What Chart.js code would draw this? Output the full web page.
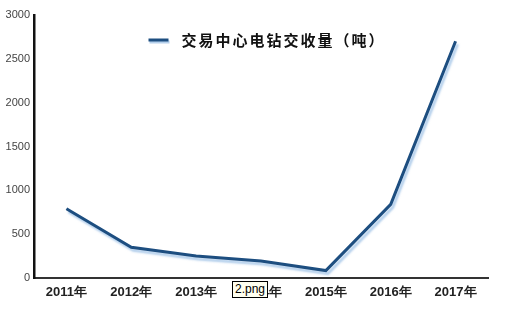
<!DOCTYPE html>
<html><head><meta charset="utf-8">
<script src="https://cdn.jsdelivr.net/npm/chart.js@4/dist/chart.umd.min.js"></script>
<style>
html,body{margin:0;padding:0;background:#fff;}
#wrap{position:relative;width:520px;height:313px;}
#tag{position:absolute;left:232px;top:281px;border:1px solid #000;background:#fffff0;font:12px "Liberation Sans",Arial,sans-serif;padding:0 2px;line-height:15px;color:#000;}
</style></head>
<body><div id="wrap"><canvas id="c" width="520" height="313"></canvas><div id="tag">2.png</div></div>
<script>
const categories = ["2011年","2012年","2013年","2014年","2015年","2016年","2017年"];
const volume = [790, 350, 250, 195, 85, 840, 2700];
const yTicks = [0, 500, 1000, 1500, 2000, 2500, 3000];
const seriesLabel = "交易中心电钻交收量（吨）";

const shadowPlugin = {
  id:'shadow',
  beforeDatasetDraw(chart){ const c=chart.ctx; c.save(); c.shadowColor='rgba(120,170,220,0.55)'; c.shadowOffsetX=2; c.shadowOffsetY=3; c.shadowBlur=2; },
  afterDatasetDraw(chart){ chart.ctx.restore(); }
};

const legendPlugin = {
  id:'innerLegend',
  afterDraw(chart){
    const c=chart.ctx, ca=chart.chartArea, ds=chart.data.datasets[0];
    c.save();
    c.font='bold 15px "Noto Sans CJK SC"';
    c.letterSpacing='2px';
    const tw=c.measureText(ds.label).width;
    const total=20+13+tw;
    const x0=(ca.left+ca.right)/2+6-total/2;
    const y=ca.top+25;
    c.strokeStyle=ds.borderColor; c.lineWidth=3;
    c.shadowColor='rgba(120,170,220,0.55)'; c.shadowOffsetX=1; c.shadowOffsetY=2;
    c.beginPath(); c.moveTo(x0,y); c.lineTo(x0+20,y); c.stroke();
    c.shadowColor='transparent';
    c.fillStyle='#111'; c.textBaseline='middle';
    c.fillText(ds.label, x0+33, y);
    c.restore();
  }
};

new Chart(document.getElementById('c'), {
  type:'line',
  data:{ labels:categories, datasets:[{ label:seriesLabel, data:volume, borderColor:'#1d4e80', borderWidth:3, pointRadius:0, tension:0, fill:false }]},
  plugins:[shadowPlugin, legendPlugin],
  options:{
    responsive:false, animation:false,
    layout:{ padding:{ top:15, right:32, left:0, bottom:0 } },
    plugins:{ legend:{ display:false }, tooltip:{ enabled:false } },
    scales:{
      x:{ offset:true, grid:{ display:false, drawTicks:false }, border:{ color:'#333', width:2 },
        ticks:{ color:'#222', padding:7, font:{ family:'"Liberation Sans", Arial', size:13, weight:'bold' } },
        afterFit(s){ s.height = 35; } },
      y:{ min:0, max:3000, grid:{ display:false, drawTicks:false }, border:{ color:'#111', width:2.5 },
        afterBuildTicks(s){ s.ticks = yTicks.map(v=>({value:v})); },
        ticks:{ color:'#444', padding:4, font:{ family:'"Liberation Sans", Arial', size:11 }, callback:(v)=>String(v) },
        afterFit(s){ s.width = 34; } }
    }
  }
});
</script></body></html>
